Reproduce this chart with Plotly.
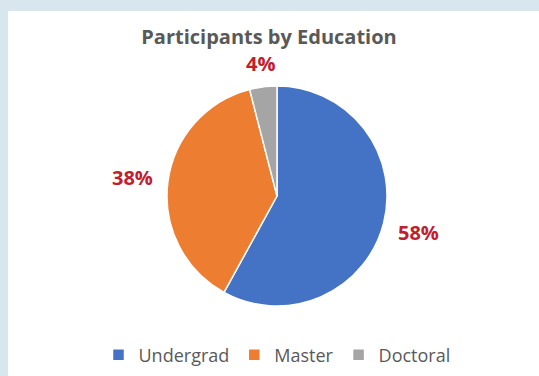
import numpy as np
import plotly.graph_objects as go

# Share of participants by highest education level
categories = ["Undergrad", "Master", "Doctoral"]
shares = [58, 38, 4]
colors = ["#4472C4", "#ED7D31", "#A5A5A5"]

W, H = 539, 376
CX, CY, R = 277, 196, 110  # pie centre and radius in pixels

fig = go.Figure(
    go.Pie(
        labels=categories,
        values=shares,
        sort=False,
        direction="clockwise",
        rotation=0,
        textinfo="none",
        hoverinfo="label+percent",
        marker=dict(colors=colors, line=dict(color="#FFFFFF", width=1.5)),
        domain=dict(
            x=[(CX - R) / W, (CX + R) / W],
            y=[1 - (CY + R) / H, 1 - (CY - R) / H],
        ),
    )
)

# Percentage labels placed outside each slice along its mid-angle
total = sum(shares)
cum = np.cumsum([0] + shares[:-1])
half_w, half_h, gap = 21, 7, 14
annotations = []
for start, v in zip(cum, shares):
    mid = 2 * np.pi * (start + v / 2) / total
    dx, dy = np.sin(mid), -np.cos(mid)
    dist = R + gap + abs(dx) * half_w + abs(dy) * half_h
    px, py = CX + dist * dx, CY + dist * dy
    annotations.append(
        dict(
            x=px / W, y=1 - py / H, xref="paper", yref="paper",
            text=f"{round(100 * v / total)}%", showarrow=False,
            xanchor="center", yanchor="middle",
            font=dict(family="Open Sans", size=20, color="#C0202E", weight="bold"),
        )
    )

# Light blue frame along the top and left edges of the white panel
frame = "#D8E7ED"
shapes = [
    dict(type="rect", xref="paper", yref="paper", x0=-0.1, x1=1.1, y0=1 - 11 / H, y1=1.1,
         fillcolor=frame, line=dict(width=0), layer="below"),
    dict(type="rect", xref="paper", yref="paper", x0=-0.1, x1=8 / W, y0=-0.1, y1=1.1,
         fillcolor=frame, line=dict(width=0), layer="below"),
]

fig.update_layout(
    width=W, height=H,
    margin=dict(l=0, r=0, t=0, b=0),
    paper_bgcolor="#FFFFFF",
    plot_bgcolor="#FFFFFF",
    title=dict(
        text="<b>Participants by Education</b>",
        x=269 / W, xanchor="center", y=1 - 37 / H, yanchor="middle",
        font=dict(family="Open Sans", size=20, color="#595959"),
    ),
    showlegend=True,
    legend=dict(
        orientation="h", x=277 / W, xanchor="center", y=1 - 355 / H, yanchor="middle",
        font=dict(family="Open Sans", size=18, color="#595959"),
        itemwidth=30, bgcolor="rgba(0,0,0,0)",
    ),
    annotations=annotations,
    shapes=shapes,
)

fig.write_html("out.html")
